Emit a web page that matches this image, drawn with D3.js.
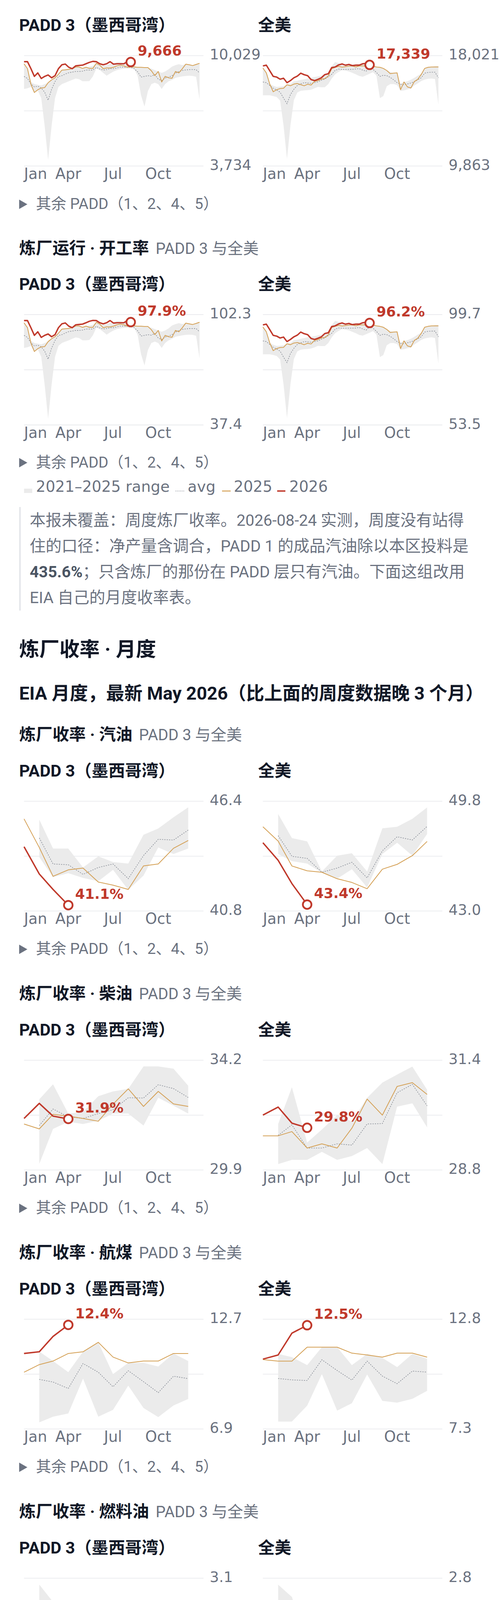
<!DOCTYPE html>
<html><head><meta charset="utf-8">
<script src="https://cdn.jsdelivr.net/npm/d3@7"></script>
<style>
html,body{margin:0;padding:0;background:#fff;}
svg{display:block;font-family:Roboto,"Noto Sans CJK SC",sans-serif;}
text{white-space:pre;}
</style></head><body>
<svg id="page" width="1279" height="6416"></svg>
<script>
// ---------------- DATA ----------------
const xTickLabels = ["Jan","Apr","Jul","Oct"];
const panelTitles = ["PADD 3（墨西哥湾）","全美"];
const legendLabels = ["2021–2025 range","avg","2025","2026"];

// weekly refinery crude inputs (kb/d), 52 weeks; 2026 = 32 weeks
const p3InTicks = [3734, 10029];
const p3InHigh = [9567,9287,8527,8407,8367,8327,8407,8487,8647,8807,9007,9207,9247,9287,9287,9383,9383,9327,9367,9407,9447,9591,9511,9447,9487,9567,9607,9647,9647,9607,9543,9511,9447,9367,9367,9351,9351,9287,9207,9127,9047,9127,9247,9407,9487,9543,9487,9543,9511,9463,9527,9591];
const p3InLow = [8127,8167,8247,7911,8047,7607,6007,4087,6007,7607,8247,8407,8487,8567,8647,8727,8687,8567,8567,8583,8847,9287,9207,9047,8887,9007,9127,9207,9247,9287,9287,9287,9271,8887,7767,7127,8007,8407,8487,8407,8127,8407,8567,8647,8767,8807,8847,8871,8887,8871,8823,7527];
const p3InAvg = [8847,8727,8407,8247,8287,8183,7943,7487,8103,8551,8839,8887,8983,9055,9087,9127,9127,9143,9207,9207,9207,9359,9271,9207,9231,9287,9287,9327,9383,9367,9367,9367,9287,9111,8807,8847,8887,8855,8951,8687,8607,8751,8807,8887,9031,9119,9183,9215,9231,9239,9231,9047];
const p3In2025 = [9567,9287,8407,7927,8087,8183,8207,8487,8647,8767,8967,9207,9223,9247,9287,9383,9383,9303,9367,9303,9303,9591,9487,9287,9327,9327,9367,9447,9487,9447,9367,9383,9383,9367,9367,9351,9351,9167,8887,9127,8527,8847,8767,8743,9127,9047,9287,9543,9511,9463,9527,9591];
const p3In2026 = [9687,9687,9287,8847,9047,8727,8847,8927,8767,8887,9287,9511,9551,9367,9287,9447,9471,9487,9567,9647,9703,9687,9567,9511,9567,9687,9543,9567,9567,9567,9687,9666];

const usInTicks = [9863, 18021];
const usInHigh = [17110,16747,15919,15795,15712,15733,15764,15868,15919,16126,16168,16230,16282,16333,16385,16437,16489,16540,16644,16768,17245,17555,17472,17389,17286,17317,17369,17389,17420,17400,17369,17317,17265,17193,17162,17079,16934,16820,16727,16747,15940,16075,16126,16240,16385,16540,16696,17079,17162,17182,17245,17265];
const usInLow = [15091,15091,15091,15029,14967,14698,12865,10380,12865,14729,15298,15422,15453,15474,15505,15609,15712,15681,15691,15919,16333,16644,16820,16944,16913,16851,16747,16644,16520,16458,16571,16685,16799,16540,14884,15039,15764,15919,15919,15847,15422,15453,15526,15588,15816,15971,16147,16251,16313,16333,16292,14418];
const usInAvg = [16075,16023,15816,15609,15484,15319,14884,14470,15143,15536,15816,15940,16023,16002,15971,16023,16085,16209,16282,16458,16644,16934,17027,17006,17006,17006,17006,17037,17058,16955,16872,17141,17016,16779,16489,16571,16540,16416,16230,16023,15909,15868,15930,16002,16095,16240,16385,16727,16779,16799,16799,16385];
const usIn2025 = [17110,16747,15919,15350,15505,15588,15609,15868,15795,15919,15961,15878,15795,15909,15847,16116,16178,16282,16333,16520,17058,17162,17224,17172,17203,17245,17265,17182,17265,17265,17265,17265,17245,17182,17162,17079,16924,16696,16727,16747,15505,16075,15712,15630,16106,16271,16623,17079,17162,17182,17182,17182];
const usIn2026 = [17265,17317,16903,16489,16437,16282,16354,16023,16178,16385,16509,16727,16613,16540,16251,16178,16271,16385,16623,16685,17141,17182,17338,17410,17317,17369,17286,17317,17317,17421,17452,17339];

// weekly utilization (%)
const p3UtTicks = [37.4, 102.3];
const p3UtHigh = [97.5,94.6,86.8,85.6,85.2,84.8,85.6,86.4,88.1,89.7,91.8,93.8,94.2,94.6,94.6,95.6,95.6,95.1,95.5,95.9,96.3,97.8,96.9,96.3,96.7,97.5,97.9,98.4,98.4,97.9,97.3,96.9,96.3,95.5,95.5,95.3,95.3,94.6,93.8,93.0,92.2,93.0,94.2,95.9,96.7,97.3,96.7,97.3,96.9,96.5,97.1,97.8];
const p3UtLow = [82.7,83.1,83.9,80.5,81.9,77.4,60.9,41.1,60.9,77.4,83.9,85.6,86.4,87.2,88.1,88.9,88.5,87.2,87.2,87.4,90.1,94.6,93.8,92.2,90.5,91.8,93.0,93.8,94.2,94.6,94.6,94.6,94.5,90.5,79.0,72.4,81.5,85.6,86.4,85.6,82.7,85.6,87.2,88.1,89.3,89.7,90.1,90.4,90.5,90.4,89.9,76.5];
const p3UtAvg = [90.1,88.9,85.6,83.9,84.3,83.3,80.8,76.1,82.5,87.1,90.0,90.5,91.5,92.3,92.6,93.0,93.0,93.2,93.8,93.8,93.8,95.4,94.5,93.8,94.1,94.6,94.6,95.1,95.6,95.5,95.5,95.5,94.6,92.8,89.7,90.1,90.5,90.2,91.2,88.5,87.6,89.1,89.7,90.5,92.0,92.9,93.6,93.9,94.1,94.1,94.1,92.2];
const p3Ut2025 = [97.5,94.6,85.6,80.6,82.3,83.3,83.5,86.4,88.1,89.3,91.4,93.8,94.0,94.2,94.6,95.6,95.6,94.8,95.5,94.8,94.8,97.8,96.7,94.6,95.1,95.1,95.5,96.3,96.7,96.3,95.5,95.6,95.6,95.5,95.5,95.3,95.3,93.4,90.5,93.0,86.8,90.1,89.3,89.0,93.0,92.2,94.6,97.3,96.9,96.5,97.1,97.8];
const p3Ut2026 = [98.8,98.8,94.6,90.1,92.2,88.9,90.1,90.9,89.3,90.5,94.6,96.9,97.4,95.5,94.6,96.3,96.5,96.7,97.5,98.4,98.9,98.8,97.5,96.9,97.5,98.8,97.3,97.5,97.5,97.5,98.8,97.9];

const usUtTicks = [53.5, 99.7];
const usUtHigh = [94.5,92.5,87.8,87.1,86.6,86.7,86.9,87.5,87.8,89.0,89.2,89.6,89.9,90.2,90.4,90.7,91.0,91.3,91.9,92.6,95.3,97.1,96.6,96.1,95.5,95.7,96.0,96.1,96.3,96.2,96.0,95.7,95.4,95.0,94.8,94.4,93.6,92.9,92.4,92.5,87.9,88.7,89.0,89.6,90.4,91.3,92.2,94.4,94.8,95.0,95.3,95.4];
const usUtLow = [83.1,83.1,83.1,82.8,82.4,80.9,70.5,56.4,70.5,81.1,84.3,85.0,85.2,85.3,85.5,86.0,86.6,86.5,86.5,87.8,90.2,91.9,92.9,93.6,93.4,93.1,92.5,91.9,91.2,90.9,91.5,92.1,92.8,91.3,81.9,82.8,86.9,87.8,87.8,87.4,85.0,85.2,85.6,85.9,87.2,88.1,89.1,89.7,90.0,90.2,89.9,79.3];
const usUtAvg = [88.7,88.4,87.2,86.0,85.3,84.4,81.9,79.6,83.4,85.6,87.2,87.9,88.4,88.3,88.1,88.4,88.7,89.4,89.9,90.9,91.9,93.6,94.1,94.0,94.0,94.0,94.0,94.1,94.3,93.7,93.2,94.7,94.0,92.7,91.0,91.5,91.3,90.6,89.6,88.4,87.7,87.5,87.9,88.3,88.8,89.6,90.4,92.4,92.7,92.8,92.8,90.4];
const usUt2025 = [94.5,92.5,87.8,84.6,85.5,85.9,86.0,87.5,87.1,87.8,88.0,87.6,87.1,87.7,87.4,88.9,89.3,89.9,90.2,91.2,94.3,94.8,95.2,94.9,95.1,95.3,95.4,95.0,95.4,95.4,95.4,95.4,95.3,95.0,94.8,94.4,93.5,92.2,92.4,92.5,85.5,88.7,86.6,86.2,88.9,89.8,91.8,94.4,94.8,95.0,95.0,95.0];
const usUt2026 = [95.4,95.7,93.4,91.0,90.7,89.9,90.3,88.4,89.3,90.4,91.1,92.4,91.7,91.3,89.7,89.3,89.8,90.4,91.8,92.1,94.7,95.0,95.8,96.2,95.7,96.0,95.5,95.7,95.7,96.3,96.5,96.2];

// monthly yields (%): 2025 Jan-Dec, 2026 Jan-Apr, range/avg Feb-Dec
const p3GasTicks = [40.8, 46.4];
const p3Gas2025 = [45.50,44.04,42.57,42.90,42.99,42.28,42.12,41.90,43.10,43.20,44.00,44.40];
const p3Gas2026 = [44.08,42.69,41.90,41.1];
const p3GasHigh = [45.46,43.99,43.99,43.02,43.59,43.30,43.22,44.69,45.01,45.58,46.09];
const p3GasLow = [43.55,42.53,42.73,42.49,42.32,42.90,41.88,42.61,44.04,43.71,43.99];
const p3GasAvg = [44.53,43.20,43.16,42.67,43.02,43.20,42.45,43.63,44.46,44.42,44.93];
const usGasTicks = [43.0, 49.8];
const usGas2025 = [48.22,47.33,45.79,45.49,45.40,45.00,44.77,44.38,45.59,45.89,46.43,47.31];
const usGas2026 = [47.23,46.14,44.70,43.4];
const usGasHigh = [49.01,47.52,47.31,45.45,46.43,46.58,45.45,48.12,48.22,48.71,49.42];
const usGasLow = [46.53,46.09,45.94,45.37,45.00,45.59,44.46,46.53,47.23,46.43,47.77];
const usGasAvg = [47.67,46.39,46.26,45.40,45.66,46.02,45.05,46.73,47.60,47.40,48.24];

const p3DslTicks = [29.9, 34.2];
const p3Dsl2025 = [31.70,31.51,32.08,32.01,31.92,31.81,32.48,33.08,32.39,32.98,32.49,32.39];
const p3Dsl2026 = [31.92,32.51,32.01,31.9];
const p3DslHigh = [32.67,33.26,32.11,32.17,32.79,32.98,33.08,33.96,33.96,33.87,33.20];
const p3DslLow = [30.14,31.51,31.79,31.70,31.83,32.11,32.11,31.64,32.73,32.42,32.11];
const p3DslAvg = [31.64,32.29,31.98,31.92,32.11,32.26,32.73,32.72,33.24,33.09,32.74];
const usDslTicks = [28.8, 31.4];
const usDsl2025 = [29.61,29.61,29.71,29.32,29.42,29.32,29.79,30.48,30.10,30.78,30.87,30.59];
const usDsl2026 = [30.10,30.29,29.91,29.8];
const usDslHigh = [29.89,30.76,29.45,29.76,30.10,29.95,30.51,30.87,31.06,31.25,30.70];
const usDslLow = [28.94,29.04,29.04,29.23,29.04,29.13,29.32,28.94,30.30,30.38,29.81];
const usDslAvg = [29.62,29.87,29.32,29.32,29.42,29.39,29.89,29.90,30.63,30.83,30.32];

const p3JetTicks = [6.9, 12.7];
const p3Jet2025 = [9.90,10.30,10.49,10.89,10.98,11.48,10.70,10.39,10.49,10.49,10.89,10.89];
const p3Jet2026 = [10.89,10.98,11.79,12.4];
const p3JetHigh = [10.99,10.49,9.90,10.99,11.48,9.80,10.39,10.39,10.20,10.89,10.49];
const p3JetLow = [7.25,7.55,7.72,9.56,7.55,7.91,9.19,8.01,7.53,8.14,8.49];
const p3JetAvg = [9.52,9.38,9.04,10.36,9.90,9.13,9.98,9.40,8.82,9.69,9.56];
const usJetTicks = [7.3, 12.8];
const usJet2025 = [10.78,10.70,10.70,11.40,11.40,11.40,11.10,11.01,10.90,11.10,11.10,10.90];
const usJet2026 = [10.80,11.01,12.10,12.5];
const usJetHigh = [11.06,10.90,10.50,11.40,11.40,10.50,11.06,10.86,10.40,11.06,10.82];
const usJetLow = [7.67,7.67,8.47,10.05,8.22,8.59,10.03,8.71,8.62,8.81,9.21];
const usJetAvg = [9.83,9.76,9.73,10.77,10.23,9.75,10.70,9.95,9.57,10.20,10.15];

const p3FoTicks = [0.0, 3.1];
const p3Fo2025 = [2.00,2.10,1.64,1.17,1.17,1.29,1.59,1.48,1.59,1.89,1.55,1.17];
const p3Fo2026 = [1.30,1.48,1.27,1.5];
const p3FoHigh = [2.92,2.43,1.80,1.68,1.30,1.20,1.57,1.39,1.39,1.61,1.50];
const p3FoLow = [0.80,0.66,0.40,1.02,0.38,0.66,0.93,0.18,0.75,0.66,0.58];
const p3FoAvg = [1.64,1.57,0.93,1.41,0.93,0.86,1.39,0.97,1.00,1.16,1.17];
const usFoTicks = [1.1, 2.8];
const usFo2025 = [1.99,2.10,2.00,1.59,1.69,1.80,1.89,1.89,2.00,2.10,1.89,1.79];
const usFo2026 = [1.79,1.89,2.10,2.0];
const usFoHigh = [2.70,2.51,1.79,1.89,1.79,1.66,1.89,1.79,1.69,1.89,1.69];
const usFoLow = [1.51,1.50,1.20,1.56,1.20,1.33,1.56,1.20,1.48,1.30,1.30];
const usFoAvg = [1.93,1.94,1.45,1.76,1.49,1.41,1.74,1.54,1.59,1.60,1.59];

const p3CokeTicks = [4.3, 5.6];
const p3Coke2025 = [5.10,5.21,4.81,4.58,4.58,4.69,4.48,4.69,4.89,4.37,4.37,4.58];
const p3Coke2026 = [5.00,4.88,4.79,4.9];
const p3CokeHigh = [5.20,5.01,5.22,5.31,5.31,5.22,5.31,5.53,5.10,5.31,5.22];
const p3CokeLow = [4.48,4.85,4.62,4.53,4.70,4.51,4.78,4.66,4.35,4.37,4.78];
const p3CokeAvg = [5.00,4.89,5.06,4.99,5.11,5.09,5.05,5.26,5.02,5.02,5.05];
const usCokeTicks = [4.3, 5.1];
const usCoke2025 = [4.88,4.88,4.79,4.62,4.62,4.62,4.53,4.53,4.62,4.34,4.34,4.43];
const usCoke2026 = [4.70,4.70,4.53,4.7];
const usCokeHigh = [4.96,4.88,4.96,4.86,4.96,4.96,4.86,5.06,4.96,4.96,5.06];
const usCokeLow = [4.52,4.63,4.50,4.64,4.55,4.64,4.66,4.59,4.63,4.59,4.57];
const usCokeAvg = [4.85,4.79,4.88,4.70,4.86,4.91,4.76,4.94,4.90,4.76,4.90];

const p3GainTicks = [-7.3, -5.5];
const p3Gain2025 = [-6.10,-5.91,-5.80,-5.60,-6.29,-6.11,-6.11,-6.37,-6.21,-5.80,-5.70,-5.91];
const p3Gain2026 = [-6.00,-6.32,-5.60,-5.9];
const p3GainHigh = [-5.60,-5.68,-5.80,-5.95,-5.76,-5.80,-5.83,-5.71,-5.95,-5.80,-6.00];
const p3GainLow = [-6.67,-6.37,-6.69,-6.32,-7.07,-7.19,-6.71,-7.07,-7.19,-6.71,-6.88];
const p3GainAvg = [-5.97,-5.95,-6.21,-6.14,-6.32,-6.49,-6.40,-6.45,-6.65,-6.24,-6.40];
const usGainTicks = [-6.8, -5.4];
const usGain2025 = [-6.10,-6.09,-5.79,-5.79,-6.29,-5.90,-5.90,-6.00,-5.90,-5.58,-5.48,-5.79];
const usGain2026 = [-5.79,-6.04,-5.79,-5.6];
const usGainHigh = [-5.68,-5.81,-5.95,-5.58,-5.71,-5.68,-5.79,-5.95,-5.95,-5.95,-6.08];
const usGainLow = [-6.29,-6.31,-6.50,-6.28,-6.50,-6.50,-6.31,-6.63,-6.72,-6.52,-6.72];
const usGainAvg = [-6.08,-5.92,-6.08,-5.87,-5.99,-6.11,-6.02,-6.28,-6.53,-6.11,-6.32];

const monthlySectionNames = ["炼厂收率 · 汽油","炼厂收率 · 柴油","炼厂收率 · 航煤","炼厂收率 · 燃料油","炼厂收率 · 石油焦","炼厂收率 · 加工增量"];

// ---------------- DRAW ----------------
const COL = {red:"#c0392b", orange:"#d4a055", band:"#ebebeb", avg:"#8b9099", grid:"#e6e7eb", tick:"#6b7280", ink:"#111827", note:"#6b7280", foot:"#4b5563", footB:"#374151"};
const CHART_FONT = "'DejaVu Sans', sans-serif";
const svg = d3.select("#page");
const year0 = new Date(2026,0,1), year1 = new Date(2027,0,1);
const weekDates = d3.range(52).map(i => d3.timeDay.offset(year0, 7*i));
const monthDates = d3.range(12).map(m => new Date(2026, m, 1));
const fmtComma = d3.format(",");
const fmt1 = v => v.toFixed(1);
const fmtPct = v => v.toFixed(1) + "%";

function panel(x0, titleY, gridTop, plotH, title, s) {
  const g = svg.append("g");
  g.append("text").attr("x", x0).attr("y", titleY).attr("font-size", 42.6).attr("font-weight", 700).attr("fill", COL.ink).text(title);
  const L = x0 + 12.5, R = L + 459, T = gridTop, B = gridTop + plotH;
  const x = d3.scaleTime().domain([year0, year1]).range([L, R]);
  const y = d3.scaleLinear().domain(s.ticks).range([B, T]);
  const gl = [s.ticks[0], (s.ticks[0] + s.ticks[1]) / 2, s.ticks[1]];
  g.selectAll(".gl").data(gl).join("line").attr("x1", L).attr("x2", R)
    .attr("y1", d => y(d)).attr("y2", d => y(d)).attr("stroke", COL.grid).attr("stroke-width", 1.6);
  g.selectAll(".tl").data(s.ticks).join("text").attr("x", R + 16).attr("y", d => y(d) + 9.8)
    .attr("font-family", CHART_FONT).attr("font-size", 37.2).attr("fill", COL.tick).text(s.tickFmt);
  const xt = x.ticks(d3.timeMonth.every(3)).filter(d => d < year1);
  g.selectAll(".xl").data(xt).join("text").attr("x", d => x(d)).attr("y", B + 33)
    .attr("text-anchor", (d, i) => i === 0 ? "start" : "middle")
    .attr("font-family", CHART_FONT).attr("font-size", 38.4).attr("fill", COL.tick).text((d, i) => xTickLabels[i]);
  const band = s.high.map((h, i) => ({d: s.bandDates[i], h: h, l: s.low[i]}));
  g.append("path").datum(band).attr("fill", COL.band)
    .attr("d", d3.area().x(d => x(d.d)).y0(d => y(d.l)).y1(d => y(d.h)));
  const line = d3.line().x(d => x(d[0])).y(d => y(d[1]));
  g.append("path").datum(s.avg.map((v, i) => [s.bandDates[i], v])).attr("fill", "none")
    .attr("stroke", COL.avg).attr("stroke-width", 1.6).attr("stroke-dasharray", "3,3").attr("d", line);
  g.append("path").datum(s.y25.map((v, i) => [s.dates[i], v])).attr("fill", "none")
    .attr("stroke", COL.orange).attr("stroke-width", 2).attr("stroke-linejoin", "round").attr("d", line);
  const cur = s.y26.map((v, i) => [s.dates[i], v]);
  g.append("path").datum(cur).attr("fill", "none")
    .attr("stroke", COL.red).attr("stroke-width", 3.6).attr("stroke-linejoin", "round").attr("d", line);
  const last = cur[cur.length - 1];
  const cx = x(last[0]), cy = y(last[1]);
  g.append("circle").attr("cx", cx).attr("cy", cy).attr("r", 11).attr("fill", "#fff")
    .attr("stroke", COL.red).attr("stroke-width", 4.5);
  g.append("text").attr("x", cx + 17.5).attr("y", cy - 16.5).attr("font-family", CHART_FONT).attr("font-size", 35.7).attr("font-weight", 700)
    .attr("fill", COL.red).text(s.labelFmt(last[1]));
}

function summary(yb) {
  svg.append("path").attr("d", `M49,${yb-24}L70,${yb-12}L49,${yb}Z`).attr("fill", COL.tick);
  svg.append("text").attr("x", 92).attr("y", yb).attr("font-size", 38.8).attr("fill", COL.tick).text("其余 PADD（1、2、4、5）");
}
function header(yb, main) {
  const t = svg.append("text").attr("x", 49).attr("y", yb).attr("font-size", 42.6).attr("font-weight", 700).attr("fill", COL.ink).text(main);
  const w = t.node().getComputedTextLength();
  svg.append("text").attr("x", 49 + w + 17).attr("y", yb).attr("font-size", 40).attr("fill", COL.tick).text("PADD 3 与全美");
}
function legend(yb) {
  svg.append("rect").attr("x", 61.5).attr("y", yb - 8).attr("width", 21).attr("height", 11).attr("fill", COL.band);
  const items = [[92, legendLabels[0]], [480, legendLabels[1]], [598, legendLabels[2]], [740, legendLabels[3]]];
  svg.append("line").attr("x1", 449).attr("x2", 471).attr("y1", yb - 2).attr("y2", yb - 2).attr("stroke", COL.avg).attr("stroke-width", 1.6).attr("stroke-dasharray", "2,2");
  svg.append("line").attr("x1", 568).attr("x2", 590).attr("y1", yb - 2).attr("y2", yb - 2).attr("stroke", COL.orange).attr("stroke-width", 2.5);
  svg.append("line").attr("x1", 709).attr("x2", 730).attr("y1", yb - 2).attr("y2", yb - 2).attr("stroke", COL.red).attr("stroke-width", 3.6);
  items.forEach(([xx, s]) => svg.append("text").attr("x", xx).attr("y", yb).attr("font-family", CHART_FONT).attr("font-size", 38.8).attr("fill", COL.tick).text(s));
}
function richLine(x, yb, segs, size, col, colB) {
  const t = svg.append("text").attr("x", x).attr("y", yb).attr("font-size", size).attr("fill", col);
  segs.forEach(([s, b]) => t.append("tspan").attr("font-weight", b ? 700 : 400).attr("fill", b ? colB : col).text(s));
}

const PH_W = 282.5, PH_M = 281;

// Section 1: weekly crude inputs
panel(49, 79, 142.5, PH_W, panelTitles[0], {ticks: p3InTicks, tickFmt: fmtComma, labelFmt: fmtComma, dates: weekDates, bandDates: weekDates, high: p3InHigh, low: p3InLow, avg: p3InAvg, y25: p3In2025, y26: p3In2026});
panel(660, 79, 142.5, PH_W, panelTitles[1], {ticks: usInTicks, tickFmt: fmtComma, labelFmt: fmtComma, dates: weekDates, bandDates: weekDates, high: usInHigh, low: usInLow, avg: usInAvg, y25: usIn2025, y26: usIn2026});
summary(535);

// Section 2: utilization
header(649.5, "炼厂运行 · 开工率");
panel(49, 742, 805.4, PH_W, panelTitles[0], {ticks: p3UtTicks, tickFmt: fmt1, labelFmt: fmtPct, dates: weekDates, bandDates: weekDates, high: p3UtHigh, low: p3UtLow, avg: p3UtAvg, y25: p3Ut2025, y26: p3Ut2026});
panel(660, 742, 805.4, PH_W, panelTitles[1], {ticks: usUtTicks, tickFmt: fmt1, labelFmt: fmtPct, dates: weekDates, bandDates: weekDates, high: usUtHigh, low: usUtLow, avg: usUtAvg, y25: usUt2025, y26: usUt2026});
summary(1196.5);
legend(1259);

// note box
svg.append("rect").attr("x", 49).attr("y", 1298).attr("width", 4.2).attr("height", 265).attr("fill", "#e5e7eb");
const noteLines = [
  [["本报未覆盖：周度炼厂收率。2026-08-24 实测，周度没有站得", 0]],
  [["住的口径：净产量含调合，PADD 1 的成品汽油除以本区投料是", 0]],
  [["435.6%", 1], ["；只含炼厂的那份在 PADD 层只有汽油。下面这组改用", 0]],
  [["EIA 自己的月度收率表。", 0]]
];
noteLines.forEach((segs, i) => richLine(76, 1345.5 + 66 * i, segs, 40.7, COL.note, "#4b5563"));

svg.append("text").attr("x", 49).attr("y", 1680).attr("font-size", 51.5).attr("font-weight", 700).attr("fill", COL.ink).text("炼厂收率 · 月度");
svg.append("text").attr("x", 49).attr("y", 1791).attr("font-size", 46.5).attr("font-weight", 700).attr("fill", COL.ink).text("EIA 月度，最新 May 2026（比上面的周度数据晚 3 个月）");

// Monthly sections
const monthlySpecs = [
  [{ticks: p3GasTicks, y25: p3Gas2025, y26: p3Gas2026, high: p3GasHigh, low: p3GasLow, avg: p3GasAvg}, {ticks: usGasTicks, y25: usGas2025, y26: usGas2026, high: usGasHigh, low: usGasLow, avg: usGasAvg}],
  [{ticks: p3DslTicks, y25: p3Dsl2025, y26: p3Dsl2026, high: p3DslHigh, low: p3DslLow, avg: p3DslAvg}, {ticks: usDslTicks, y25: usDsl2025, y26: usDsl2026, high: usDslHigh, low: usDslLow, avg: usDslAvg}],
  [{ticks: p3JetTicks, y25: p3Jet2025, y26: p3Jet2026, high: p3JetHigh, low: p3JetLow, avg: p3JetAvg}, {ticks: usJetTicks, y25: usJet2025, y26: usJet2026, high: usJetHigh, low: usJetLow, avg: usJetAvg}],
  [{ticks: p3FoTicks, y25: p3Fo2025, y26: p3Fo2026, high: p3FoHigh, low: p3FoLow, avg: p3FoAvg}, {ticks: usFoTicks, y25: usFo2025, y26: usFo2026, high: usFoHigh, low: usFoLow, avg: usFoAvg}],
  [{ticks: p3CokeTicks, y25: p3Coke2025, y26: p3Coke2026, high: p3CokeHigh, low: p3CokeLow, avg: p3CokeAvg}, {ticks: usCokeTicks, y25: usCoke2025, y26: usCoke2026, high: usCokeHigh, low: usCokeLow, avg: usCokeAvg}],
  [{ticks: p3GainTicks, y25: p3Gain2025, y26: p3Gain2026, high: p3GainHigh, low: p3GainLow, avg: p3GainAvg}, {ticks: usGainTicks, y25: usGain2025, y26: usGain2026, high: usGainHigh, low: usGainLow, avg: usGainAvg}]
];
monthlySectionNames.forEach((name, k) => {
  const hy = 1894.6 + 663 * k;
  header(hy, name);
  const ty = hy + 93.1, gt = ty + 63.5;
  monthlySpecs[k].forEach((sp, j) => {
    panel(j ? 660 : 49, ty, gt, PH_M, panelTitles[j], Object.assign({tickFmt: fmt1, labelFmt: fmtPct, dates: monthDates, bandDates: monthDates.slice(1)}, sp));
  });
  summary(gt + PH_M + 33 + 77);
});
legend(5819);

const footLines = [
  [["流量单位是", 0], ["千桶/日", 1], ["，与上面的库存出自同一期 WPSR。原油进口在", 0]],
  [["全美与 PADD 两侧都是", 0], ["不含 SPR", 1], [" 的口径，所以五个 PADD 加起来等", 0]],
  [["于全美；开工率是比值，不能横向加总。表里的 0 是已公布的真值", 0]],
  [["—— 内陆 PADD 确实不进口汽油 —— 不是缺了一周。汽油口径是", 0], ["成", 1]],
  [["品车用汽油", 1], ["，所以 PADD 层的数把调合也算了进去：PADD 1 在这", 0]],
  [["一行高过 PADD 3，是因为墨西哥湾的炼厂把调合组分运往北方。", 0]],
  [["EIA 不公布 PADD 级出口", 1], ["：那 30 格是因为序列本身不存在，本报也", 0]],
  [["没有拿产量或库存变化去倒推。", 0]]
];
footLines.forEach((segs, i) => richLine(49, 5903 + 63 * i, segs, 40.7, COL.foot, COL.footB));
</script>
</body></html>
